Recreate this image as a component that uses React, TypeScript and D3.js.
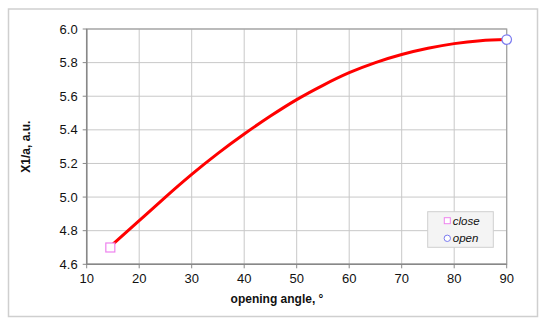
import * as d3 from 'd3';
import React from 'react';

const angles = [15, 20, 25, 30, 35, 40, 45, 50, 55, 60, 65, 70, 75, 80, 85, 90];
const x1a = [4.72, 4.86, 5.0, 5.135, 5.26, 5.375, 5.482, 5.58, 5.665, 5.74, 5.8, 5.848, 5.885, 5.913, 5.93, 5.937];
const closePoint = { angle: 14.5, value: 4.7 };
const openPoint = { angle: 90, value: 5.937 };
const xTicks = [10, 20, 30, 40, 50, 60, 70, 80, 90];
const yTicks = [4.6, 4.8, 5.0, 5.2, 5.4, 5.6, 5.8, 6.0];
const legendItems = ['close', 'open'];

const width = 550;
const height = 326;
const margin = { left: 86.7, right: 43.3, top: 29, bottom: 61.7 };
const font = 'Arial, "Liberation Sans", sans-serif';

export default function App() {
  const x = d3
    .scaleLinear()
    .domain([10, 90])
    .range([margin.left, width - margin.right]);
  const y = d3
    .scaleLinear()
    .domain([4.6, 6.0])
    .range([height - margin.bottom, margin.top]);

  const line = d3
    .line<number>()
    .x((d, i) => x(angles[i]))
    .y(d => y(d))
    .curve(d3.curveNatural);

  const x0 = x(10);
  const x1 = x(90);
  const y0 = y(4.6);
  const y1 = y(6.0);

  return (
    <svg
      width={width}
      height={height}
      style={{ position: 'absolute', left: 0, top: 0, background: '#fff' }}
      fontFamily={font}
    >
      <rect x={8.5} y={9} width={529} height={307.5} fill="#fff" stroke="#cfcfcf" strokeWidth={1.5} />

      {/* grid */}
      <g className="grid">
        {xTicks.map(t => (
          <line key={'gx' + t} x1={x(t)} x2={x(t)} y1={y1} y2={y0} stroke="#c8c8c8" strokeWidth={1} />
        ))}
        {yTicks.map(t => (
          <line key={'gy' + t} x1={x0} x2={x1} y1={y(t)} y2={y(t)} stroke="#c8c8c8" strokeWidth={1} />
        ))}
      </g>
      <rect x={x0} y={y1} width={x1 - x0} height={y0 - y1} fill="none" stroke="#a0a0a0" strokeWidth={1.2} />
      <line x1={x0} x2={x0} y1={y1} y2={y0} stroke="#888" strokeWidth={1.5} />
      <line x1={x0} x2={x1} y1={y0} y2={y0} stroke="#888" strokeWidth={1.5} />

      {/* ticks */}
      {yTicks.map(t => (
        <g key={'ty' + t}>
          <line x1={x0 - 4} x2={x0} y1={y(t)} y2={y(t)} stroke="#888" />
          <text x={x0 - 9} y={y(t)} dy="0.35em" textAnchor="end" fontSize={13} fill="#111">
            {t.toFixed(1)}
          </text>
        </g>
      ))}
      {xTicks.map(t => (
        <g key={'tx' + t}>
          <line x1={x(t)} x2={x(t)} y1={y0} y2={y0 + 4} stroke="#888" />
          <text x={x(t)} y={y0 + 19} textAnchor="middle" fontSize={13} fill="#111">
            {t}
          </text>
        </g>
      ))}

      {/* axis titles */}
      <text x={277} y={303} textAnchor="middle" fontSize={12} fontWeight="bold" fill="#111">
        opening angle, °
      </text>
      <text
        transform={`translate(30, ${(y0 + y1) / 2}) rotate(-90)`}
        textAnchor="middle"
        fontSize={12}
        fontWeight="bold"
        fill="#111"
      >
        X1/a, a.u.
      </text>

      {/* curve */}
      <path d={line(x1a) || ''} fill="none" stroke="#ff0000" strokeWidth={3} />

      {/* markers */}
      <rect
        x={x(closePoint.angle) - 4.5}
        y={y(closePoint.value) - 4.5}
        width={9}
        height={9}
        fill="#fff"
        stroke="#ee82ee"
        strokeWidth={1.2}
      />
      <circle cx={x(openPoint.angle)} cy={y(openPoint.value)} r={4.8} fill="#fff" stroke="#7b7bf0" strokeWidth={1.2} />

      {/* legend */}
      <g className="legend">
        <rect x={427.7} y={211.7} width={65.6} height={35.6} fill="#f4f4f4" stroke="#cfcfcf" strokeWidth={1} />
        {legendItems.map((d, i) => (
          <g key={d} transform={`translate(447.3, ${220.7 + i * 17.6})`}>
            {i === 0 ? (
              <rect x={-3} y={-3} width={6} height={6} fill="#fff" stroke="#ee82ee" />
            ) : (
              <circle r={3.2} fill="#fff" stroke="#7b7bf0" />
            )}
            <text x={5.5} dy="0.35em" fontSize={11.5} fontStyle="italic" fill="#111">
              {d}
            </text>
          </g>
        ))}
      </g>
    </svg>
  );
}
